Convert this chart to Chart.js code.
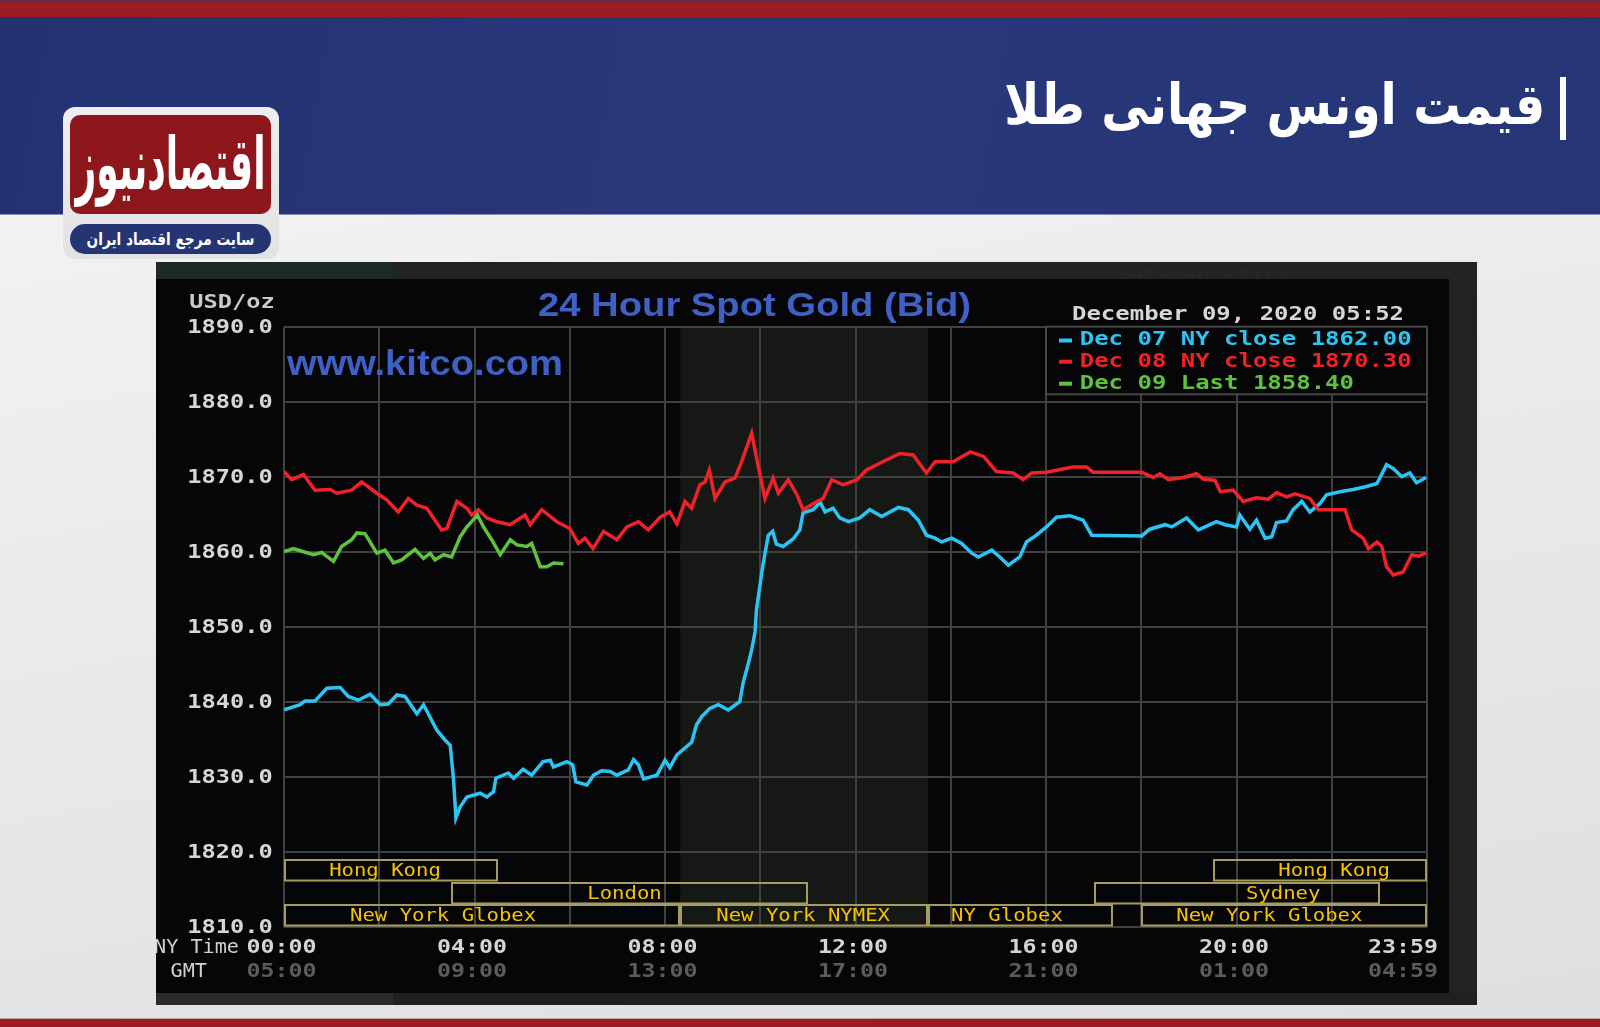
<!DOCTYPE html>
<html>
<head>
<meta charset="utf-8">
<script src="https://cdn.jsdelivr.net/npm/chart.js@4.4.1/dist/chart.umd.min.js"></script>
<style>
html,body{margin:0;padding:0;width:1600px;height:1027px;overflow:hidden;}
body{position:relative;background:linear-gradient(170deg,#f6f6f7 0%,#ebebed 45%,#dedfe1 100%);font-family:"DejaVu Sans",sans-serif;}
#topbar{position:absolute;left:0;top:0;width:1600px;height:17px;background:#9b1c22;border-top:1px solid #5a2a55;box-sizing:border-box;}
#band{position:absolute;left:0;top:17px;width:1600px;height:197px;background:linear-gradient(100deg,#233271 0%,#28387b 45%,#253575 100%);border-bottom:1px solid #8a8fb5;}
#bottombar{position:absolute;left:0;top:1018px;width:1600px;height:9px;background:#9b1c22;border-top:1px solid #c9a0a2;box-sizing:border-box;}
#titlebar{position:absolute;left:1560px;top:77px;width:6px;height:63px;background:#fff;}
#title{position:absolute;right:55px;top:72px;color:#fff;font-weight:bold;font-size:56px;font-family:"DejaVu Sans",sans-serif;direction:rtl;white-space:nowrap;transform-origin:right center;}
#logo{position:absolute;left:63px;top:107px;width:216px;height:152px;background:linear-gradient(#eeeef0,#e2e2e4);border-radius:12px;}
#logoRed{position:absolute;left:70px;top:115px;width:201px;height:99px;background:#8e171b;border-radius:10px;overflow:hidden;}
#logoText{position:absolute;left:0;top:0;width:201px;height:99px;display:flex;align-items:center;justify-content:center;}
#logoText span{color:#fff;font-weight:bold;font-size:72px;line-height:99px;direction:rtl;white-space:nowrap;display:inline-block;transform-origin:center center;}
#logoPill{position:absolute;left:70px;top:224px;width:201px;height:30px;background:#253574;border-radius:15px;display:flex;align-items:center;justify-content:center;}
#logoPill span{color:#fff;font-weight:bold;font-size:17px;direction:rtl;white-space:nowrap;display:inline-block;}
#chartWrap{position:absolute;left:156px;top:262px;width:1321px;height:743px;}
</style>
</head>
<body>
<div id="topbar"></div>
<div id="band"></div>
<div id="titlebar"></div>
<div id="title">قیمت اونس جهانی طلا</div>
<div id="logo"></div>
<div id="logoRed"><div id="logoText"><span id="logoSpan">اقتصادنیوز</span></div></div>
<div id="logoPill"><span id="pillSpan">سایت مرجع اقتصاد ایران</span></div>
<div id="bottombar"></div>
<div id="chartWrap"><canvas id="c" width="1321" height="743"></canvas></div>
<script>
// ---------------- DATA ----------------
const chartTitle = '24 Hour Spot Gold (Bid)';
const siteName = 'www.kitco.com';
const unitLabel = 'USD/oz';
const dateStamp = 'December 09, 2020 05:52';

const seriesLabels = ['Dec 07 NY close', 'Dec 08 NY close', 'Dec 09 Last'];
const seriesFinal = [1862.00, 1870.30, 1858.40];

// time in hours (NY time), price in USD/oz
const dec07Hours = [0.00,0.34,0.44,0.65,0.90,1.18,1.35,1.56,1.81,2.02,2.19,2.37,2.54,2.79,2.93,3.21,3.38,3.49,3.56,3.61,3.70,3.84,4.12,4.26,4.40,4.45,4.71,4.82,5.02,5.20,5.44,5.59,5.66,5.94,6.06,6.13,6.36,6.50,6.67,6.85,6.99,7.23,7.34,7.44,7.55,7.83,8.00,8.10,8.25,8.56,8.66,8.77,8.94,9.12,9.33,9.57,9.64,9.75,9.82,9.89,9.92,9.98,10.05,10.12,10.17,10.26,10.34,10.48,10.69,10.83,10.90,11.11,11.26,11.36,11.53,11.67,11.85,12.09,12.30,12.55,12.90,13.11,13.32,13.49,13.67,13.81,14.02,14.23,14.44,14.58,14.86,15.03,15.21,15.45,15.59,15.80,16.01,16.22,16.50,16.78,16.96,18.01,18.18,18.50,18.64,18.95,19.20,19.58,19.76,20.00,20.07,20.28,20.42,20.60,20.74,20.84,21.05,21.19,21.37,21.54,21.75,21.89,22.17,22.45,22.73,22.95,23.15,23.29,23.47,23.64,23.78,23.98];
const dec07Prices = [1838.9,1839.6,1840.1,1840.1,1841.8,1841.9,1840.7,1840.2,1841.0,1839.6,1839.7,1840.9,1840.7,1838.4,1839.6,1836.2,1834.9,1834.2,1829.6,1824.5,1826.0,1827.3,1827.8,1827.3,1828.0,1829.8,1830.5,1829.8,1831.0,1830.2,1832.0,1832.2,1831.3,1832.0,1831.6,1829.3,1828.9,1830.2,1830.8,1830.7,1830.2,1830.9,1832.3,1831.6,1829.7,1830.2,1832.2,1831.2,1832.9,1834.6,1836.9,1838.0,1839.1,1839.6,1838.9,1840.0,1842.5,1845.1,1846.9,1849.3,1852.2,1854.9,1858.0,1860.5,1862.2,1862.7,1861.0,1860.7,1861.7,1862.9,1865.2,1865.6,1866.6,1865.3,1865.8,1864.5,1864.0,1864.5,1865.6,1864.7,1865.9,1865.6,1864.2,1862.2,1861.8,1861.3,1861.8,1861.1,1859.8,1859.3,1860.2,1859.3,1858.2,1859.3,1861.3,1862.2,1863.3,1864.6,1864.8,1864.2,1862.2,1862.1,1863.0,1863.6,1863.3,1864.5,1862.9,1864.0,1863.6,1863.3,1864.9,1863.0,1864.2,1861.8,1862.0,1863.9,1864.1,1865.6,1866.7,1865.3,1866.4,1867.6,1868.0,1868.3,1868.7,1869.1,1871.6,1871.1,1870.0,1870.5,1869.2,1869.9];

const dec08Hours = [0.00,0.16,0.41,0.65,0.97,1.11,1.42,1.63,1.95,2.16,2.40,2.61,2.79,3.00,3.31,3.42,3.63,3.84,3.94,4.08,4.26,4.47,4.75,5.06,5.17,5.41,5.73,6.00,6.18,6.32,6.49,6.71,6.99,7.20,7.44,7.65,7.90,8.10,8.25,8.42,8.56,8.73,8.84,8.93,9.05,9.26,9.47,9.61,9.82,9.96,10.10,10.27,10.38,10.59,10.77,10.90,11.19,11.32,11.50,11.74,12.03,12.23,12.51,12.93,13.21,13.49,13.67,14.05,14.41,14.69,14.96,15.31,15.52,15.70,16.01,16.57,16.85,16.99,18.01,18.25,18.39,18.57,18.88,19.16,19.30,19.55,19.66,19.93,20.14,20.42,20.67,20.84,21.05,21.23,21.54,21.72,22.28,22.42,22.66,22.77,22.95,23.05,23.15,23.29,23.50,23.68,23.82,23.98];
const dec08Prices = [1870.7,1869.6,1870.3,1868.2,1868.3,1867.8,1868.2,1869.3,1867.8,1866.9,1865.3,1867.1,1866.2,1865.8,1862.9,1863.1,1866.7,1865.8,1864.9,1865.6,1864.5,1864.0,1863.6,1864.9,1863.6,1865.6,1864.0,1863.1,1861.1,1861.8,1860.4,1862.7,1861.6,1863.3,1864.0,1862.9,1864.6,1865.3,1863.7,1866.7,1865.8,1868.9,1869.3,1870.9,1867.1,1869.3,1869.8,1872.0,1875.8,1871.3,1867.1,1869.8,1867.8,1869.6,1867.6,1865.6,1866.7,1867.1,1869.6,1868.9,1869.6,1870.9,1871.8,1873.1,1872.9,1870.5,1872.0,1872.0,1873.3,1872.7,1870.7,1870.5,1869.6,1870.5,1870.6,1871.3,1871.3,1870.6,1870.6,1869.9,1870.4,1869.6,1869.9,1870.4,1869.7,1869.5,1868.0,1868.2,1866.7,1867.2,1867.0,1867.9,1867.3,1867.7,1867.1,1865.6,1865.6,1862.9,1861.8,1860.4,1861.3,1860.7,1858.0,1856.9,1857.3,1859.6,1859.4,1859.8];

const dec09Hours = [0.00,0.20,0.41,0.62,0.79,1.04,1.21,1.42,1.53,1.70,1.95,2.12,2.30,2.47,2.75,2.93,3.07,3.17,3.35,3.52,3.70,3.84,3.94,4.06,4.19,4.36,4.54,4.75,4.89,5.10,5.20,5.38,5.52,5.66,5.87];
const dec09Prices = [1860.0,1860.4,1860.0,1859.6,1859.9,1858.7,1860.7,1861.6,1862.5,1862.4,1859.8,1860.2,1858.5,1858.9,1860.3,1859.1,1859.8,1858.9,1859.6,1859.3,1862.0,1863.3,1864.0,1864.9,1863.3,1861.6,1859.6,1861.6,1860.9,1860.7,1861.1,1858.0,1858.0,1858.5,1858.4];

const nyTimeLabels = ['00:00','04:00','08:00','12:00','16:00','20:00','23:59'];
const gmtTimeLabels = ['05:00','09:00','13:00','17:00','21:00','01:00','04:59'];
const timeLabelHours = [0,4,8,12,16,20,23.983];

const sessionNames  = ['Hong Kong','London','New York Globex','New York NYMEX','NY Globex','Sydney','Hong Kong','New York Globex'];
const sessionStart  = [0,   3.5, 0,    8.32, 13.52, 17,   19.5, 18];
const sessionEnd    = [4.5, 11,  8.32, 13.52, 17.4, 23,   24,   24];
const sessionRow    = [0,   1,   2,    2,    2,    1,    0,    2];
const sessionLabelAt= [2.12,7.15,3.34, 10.9, 15.18,20.98,22.05,20.69];

// ---------------- STYLE ----------------
const COLORS = ['#2cc4f2', '#ef2229', '#5fc23e'];
const MONO = '"DejaVu Sans Mono", monospace';

function pts(hs, vs){ return hs.map((h,i)=>({x:h, y:vs[i]})); }

function drawText(ctx, text, x, y, font, color, sx, align){
  ctx.save();
  ctx.font = font; ctx.fillStyle = color; ctx.textBaseline = 'middle'; ctx.textAlign = 'left';
  const w = ctx.measureText(text).width * sx;
  const left = align === 'right' ? x - w : (align === 'center' ? x - w/2 : x);
  ctx.translate(left, y); ctx.scale(sx, 1);
  ctx.fillText(text, 0, 0);
  ctx.restore();
  return w;
}
function drawFit(ctx, text, x, y, font, color, width, align){
  ctx.save(); ctx.font = font;
  const m = ctx.measureText(text).width;
  ctx.restore();
  return drawText(ctx, text, x, y, font, color, width / m, align);
}

const backdrop = {
  id: 'backdrop',
  beforeDraw(chart){
    const ctx = chart.ctx, W = chart.width, H = chart.height, a = chart.chartArea;
    const xs = chart.scales.x;
    ctx.save();
    ctx.fillStyle = '#060608'; ctx.fillRect(0,0,W,H);
    ctx.fillStyle = '#232323'; ctx.fillRect(0,0,W,17);
    ctx.fillStyle = '#1e2a27'; ctx.fillRect(0,0,237,17);
    ctx.fillStyle = '#262626'; ctx.font = 'bold 22px ' + MONO; ctx.textBaseline='middle';
    ctx.fillText('Fatemeh stiri', 961, 14);
    ctx.fillStyle = '#060608'; ctx.fillRect(0,17,W,H-17);
    ctx.fillStyle = '#232323'; ctx.fillRect(W-28,0,28,H);
    ctx.fillStyle = '#202020'; ctx.fillRect(0,H-12,W,12);
    ctx.fillStyle = '#2a2a2a'; ctx.fillRect(0,H-12,237,12);
    // NYMEX shaded period
    const i = sessionNames.indexOf('New York NYMEX');
    const x0 = xs.getPixelForValue(sessionStart[i]), x1 = xs.getPixelForValue(sessionEnd[i]);
    ctx.fillStyle = '#151815';
    ctx.fillRect(x0, a.top, x1 - x0, a.bottom - a.top);
    ctx.restore();
  }
};

const overlay = {
  id: 'overlay',
  afterDatasetsDraw(chart){
    const ctx = chart.ctx, a = chart.chartArea;
    const xs = chart.scales.x, ys = chart.scales.y;
    ctx.save();
    // session boxes
    const rowH = 22.5;
    ctx.lineWidth = 2; ctx.strokeStyle = '#a59c5f';
    sessionNames.forEach((n, k) => {
      const x0 = xs.getPixelForValue(sessionStart[k]), x1 = xs.getPixelForValue(sessionEnd[k]);
      const yTop = a.bottom - (3 - sessionRow[k]) * rowH;
      ctx.strokeRect(Math.round(x0)+1, Math.round(yTop)+1, Math.round(x1-x0)-2, rowH-2);
    });
    sessionNames.forEach((n, k) => {
      const yTop = a.bottom - (3 - sessionRow[k]) * rowH;
      drawText(ctx, n, xs.getPixelForValue(sessionLabelAt[k]), yTop + rowH/2 + 1, '18px ' + MONO, '#f4c400', 1.145, 'center');
    });
    // legend box
    const lx = xs.getPixelForValue(16), lw = a.right - lx, lh = 67.6;
    ctx.fillStyle = '#060608'; ctx.fillRect(lx, a.top, lw, lh);
    ctx.strokeStyle = '#474747'; ctx.lineWidth = 2;
    ctx.strokeRect(lx, a.top, lw, lh);
    const rowY = [13.8, 35.0, 57.0];
    chart.data.datasets.forEach((ds, k) => {
      const y = a.top + rowY[k];
      ctx.fillStyle = ds.borderColor;
      ctx.fillRect(lx + 13, y - 2, 13, 4);
      drawText(ctx, ds.label, lx + 33.7, y, 'bold 19px ' + MONO, ds.borderColor, 1.262, 'left');
    });
    // title texts
    drawFit(ctx, chartTitle, 754.5 - 156, 307 - 262, 'bold 34px "Liberation Sans", Arial, sans-serif', '#3f61c4', 433, 'center');
    drawFit(ctx, siteName, 287 - 156, 365 - 262, 'bold 35px "Liberation Sans", Arial, sans-serif', '#3f61c4', 276, 'left');
    drawText(ctx, dateStamp, a.right - 23, a.top - 11.5, 'bold 19px ' + MONO, '#d6d6d6', 1.262, 'right');
    drawText(ctx, unitLabel, a.left - 9.3, a.top - 23.5, 'bold 19px ' + MONO, '#c9c9c9', 1.245, 'right');
    // y tick labels
    ys.ticks.forEach(t => {
      drawText(ctx, t.value.toFixed(1), a.left - 11.3, ys.getPixelForValue(t.value) + 1, 'bold 19px ' + MONO, '#d6d6d6', 1.245, 'right');
    });
    // x tick labels
    drawText(ctx, 'NY Time', 83, a.bottom + 21.6, '19px ' + MONO, '#d0d0d0', 1.06, 'right');
    drawText(ctx, 'GMT', 51, a.bottom + 45.4, '19px ' + MONO, '#d0d0d0', 1.06, 'right');
    timeLabelHours.forEach((h, k) => {
      ctx.save(); ctx.font = 'bold 19px ' + MONO;
      const w = ctx.measureText(nyTimeLabels[k]).width * 1.225;
      ctx.restore();
      let cx = xs.getPixelForValue(h) - 2.5;
      if (cx + w/2 > a.right + 11) cx = a.right + 11 - w/2;
      drawText(ctx, nyTimeLabels[k], cx, a.bottom + 21.6, 'bold 19px ' + MONO, '#d4d4d4', 1.225, 'center');
      drawText(ctx, gmtTimeLabels[k], cx, a.bottom + 45.4, 'bold 19px ' + MONO, '#5c5c5c', 1.225, 'center');
    });
    ctx.restore();
  }
};

const gridOpts = { color: '#404040', lineWidth: 2, drawTicks: false };

new Chart(document.getElementById('c'), {
  type: 'line',
  data: {
    datasets: [
      { label: seriesLabels[0] + ' ' + seriesFinal[0].toFixed(2), data: pts(dec07Hours, dec07Prices), borderColor: COLORS[0], order: 2 },
      { label: seriesLabels[1] + ' ' + seriesFinal[1].toFixed(2), data: pts(dec08Hours, dec08Prices), borderColor: COLORS[1], order: 1 },
      { label: seriesLabels[2] + ' ' + seriesFinal[2].toFixed(2), data: pts(dec09Hours, dec09Prices), borderColor: COLORS[2], order: 0 }
    ]
  },
  options: {
    responsive: false,
    animation: false,
    devicePixelRatio: 1,
    elements: { point: { radius: 0 }, line: { borderWidth: 3.5, tension: 0, borderJoinStyle: 'miter' } },
    layout: { padding: { left: 128, top: 64.7, right: 50, bottom: 78.3 } },
    plugins: { legend: { display: false }, tooltip: { enabled: false } },
    scales: {
      x: { type: 'linear', min: 0, max: 24, ticks: { display: false, stepSize: 2 }, grid: gridOpts, border: { display: false } },
      y: { type: 'linear', min: 1810, max: 1890, ticks: { display: false, stepSize: 10 }, grid: gridOpts, border: { display: false } }
    }
  },
  plugins: [backdrop, overlay]
});

// fit header texts
function fitEl(el, target){
  const w = el.getBoundingClientRect().width;
  if (w > 0) el.style.transform = 'scaleX(' + (target / w) + ')';
}
fitEl(document.getElementById('title'), 541);
fitEl(document.getElementById('logoSpan'), 190);
fitEl(document.getElementById('pillSpan'), 168);
</script>
</body>
</html>
